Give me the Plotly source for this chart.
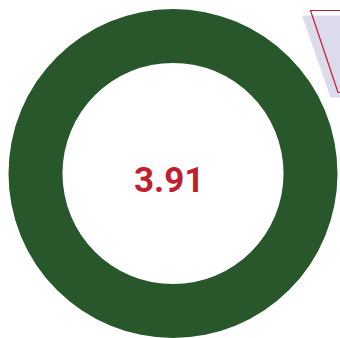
import plotly.graph_objects as go

labels = ["Value"]
values = [3.91]
center_text = "3.91"

W, H = 340, 338
ML, MR, MT, MB = 8, 2, 9, 0
PW, PH = W - ML - MR, H - MT - MB

def px(x):
    return (x - ML) / PW

def py(y):
    return (H - MB - y) / PH

fig = go.Figure(go.Pie(
    labels=labels, values=values, hole=0.672, sort=False,
    marker=dict(colors=["#28572C"], line=dict(width=0)),
    textinfo="none", hoverinfo="skip", showlegend=False,
))

lav = f"M {px(302)},{py(15.5)} L {px(345)},{py(15.5)} L {px(345)},{py(97.5)} L {px(330.5)},{py(97.5)} Z"
red = f"M {px(345)},{py(10.5)} L {px(310.5)},{py(10.5)} L {px(338)},{py(92.5)} L {px(345)},{py(92.5)}"
fig.update_layout(
    width=W, height=H,
    margin=dict(l=ML, r=MR, t=MT, b=MB),
    paper_bgcolor="white", plot_bgcolor="white",
    shapes=[
        dict(type="path", xref="paper", yref="paper", path=lav,
             fillcolor="#DCDBEB", line=dict(width=0), layer="below"),
        dict(type="path", xref="paper", yref="paper", path=red,
             line=dict(color="#C21F30", width=1.2), layer="above"),
    ],
    annotations=[dict(
        text=f"<b>{center_text}</b>", x=px(169), y=py(180.5),
        xref="paper", yref="paper", showarrow=False,
        xanchor="center", yanchor="middle",
        font=dict(family="Roboto", size=35, color="#C01F2F"),
    )],
)
fig.write_html("out.html")
